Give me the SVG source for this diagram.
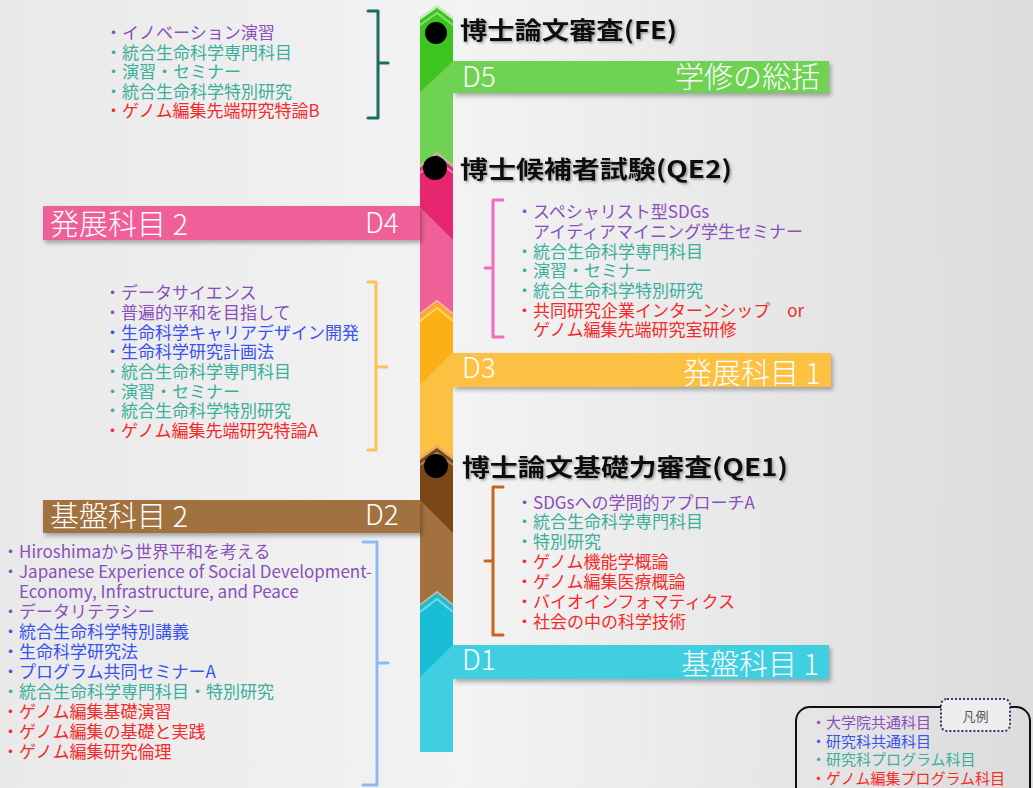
<svg xmlns="http://www.w3.org/2000/svg" width="1033" height="788" viewBox="0 0 1033 788">
<defs>
  <linearGradient id="bg" x1="0" y1="0" x2="1" y2="0">
    <stop offset="0" stop-color="#e9e9e9"/>
    <stop offset="0.45" stop-color="#f3f3f3"/>
    <stop offset="1" stop-color="#dcdcdc"/>
  </linearGradient>
  <filter id="barShadow" x="-5%" y="-30%" width="110%" height="170%">
    <feDropShadow dx="2" dy="3" stdDeviation="2" flood-color="#000" flood-opacity="0.3"/>
  </filter>
  <filter id="txtShadow" x="-10%" y="-30%" width="120%" height="170%">
    <feDropShadow dx="1.5" dy="1.5" stdDeviation="1.2" flood-color="#555" flood-opacity="0.55"/>
  </filter>
  <style>
    .li{font-family:"Noto Sans CJK JP","Noto Sans",sans-serif;font-size:17px;}
    .lg{font-family:"Noto Sans CJK JP","Noto Sans",sans-serif;font-size:15px;}
    .pu{fill:#8a4fba;}
    .te{fill:#3aaf9c;}
    .bl{fill:#3a52ec;}
    .re{fill:#f42a2a;}
    .ttl{font-family:"Noto Sans CJK JP",sans-serif;font-weight:bold;font-size:24px;fill:#111;}
    .bar{font-family:"Noto Sans CJK JP","Noto Sans",sans-serif;font-weight:300;font-size:29px;fill:#fff;}
    .dl{font-family:"Noto Sans CJK JP","Noto Sans",sans-serif;font-weight:300;font-size:28px;fill:#fff;}
    .brk{fill:none;stroke-width:3;stroke-linejoin:round;stroke-linecap:round;}
    .stripe{fill:none;stroke-width:2;stroke-opacity:0.7;}
  </style>
</defs>
<rect x="0" y="0" width="1033" height="788" fill="url(#bg)"/>

<!-- D5 (green) -->
<g id="d5">
  <polygon points="420,20 437,8 453,20 453,175 420,175" fill="#70d253"/>
  <polygon points="420,20 437,8 453,20 453,62 420,92" fill="#3ec41f"/>
  <polyline class="stripe" points="420,18 437,6 453,18" stroke="#a8ea95"/>
  <polyline class="stripe" points="420,25 437,13 453,25" stroke="#a8ea95"/>
  <rect x="453" y="61" width="376" height="32" fill="#70d253" filter="url(#barShadow)"/>
  <polygon points="453,61 453,93 420,93" fill="#70d253"/>
  <text class="dl" x="462" y="87">D5</text>
  <text class="bar" x="820" y="88" text-anchor="end">学修の総括</text>
</g>

<!-- D4 (pink) -->
<g id="d4">
  <polygon points="420,168 437,155 453,168 453,320 420,320" fill="#ee6097"/>
  <polygon points="420,168 437,155 453,168 453,240 420,207" fill="#e6276f"/>
  <polyline class="stripe" points="420,166 437,153 453,166" stroke="#f8a9c6"/>
  <polyline class="stripe" points="420,173 437,160 453,173" stroke="#f8a9c6"/>
  <rect x="43" y="206" width="377" height="34" fill="#ee6097" filter="url(#barShadow)"/>
  <text class="bar" x="50" y="235">発展科目 2</text>
  <text class="dl" x="365" y="233">D4</text>
</g>

<!-- D3 (orange) -->
<g id="d3">
  <polygon points="420,316 437,303 453,316 453,465 420,465" fill="#fcc042"/>
  <polygon points="420,316 437,303 453,316 453,352 420,385" fill="#fbb116"/>
  <polyline class="stripe" points="420,314 437,301 453,314" stroke="#fde39c"/>
  <polyline class="stripe" points="420,321 437,308 453,321" stroke="#fde39c"/>
  <rect x="453" y="353" width="378" height="34" fill="#fcc042" filter="url(#barShadow)"/>
  <polygon points="453,353 453,387 420,387" fill="#fcc042"/>
  <text class="dl" x="462" y="378">D3</text>
  <text class="bar" x="821" y="384" text-anchor="end">発展科目 1</text>
</g>

<!-- D2 (brown) -->
<g id="d2">
  <polygon points="420,460 437,448 453,460 453,610 420,610" fill="#a2713f"/>
  <polygon points="420,460 437,448 453,460 453,533 420,500" fill="#7b4716"/>
  <polyline class="stripe" points="420,458 437,446 453,458" stroke="#cfa77f"/>
  <polyline class="stripe" points="420,465 437,453 453,465" stroke="#cfa77f"/>
  <rect x="43" y="500" width="377" height="33" fill="#a2713f" filter="url(#barShadow)"/>
  <text class="bar" x="50" y="527">基盤科目 2</text>
  <text class="dl" x="365" y="525">D2</text>
</g>

<!-- D1 (cyan) -->
<g id="d1">
  <polygon points="420,607 437,594 453,607 453,752 420,752" fill="#3fcfe0"/>
  <polygon points="420,607 437,594 453,607 453,645 420,677" fill="#19bdd6"/>
  <polyline class="stripe" points="420,605 437,592 453,605" stroke="#9ae8f1"/>
  <polyline class="stripe" points="420,612 437,599 453,612" stroke="#9ae8f1"/>
  <rect x="453" y="645" width="376" height="34" fill="#3fcfe0" filter="url(#barShadow)"/>
  <polygon points="453,645 453,679 420,679" fill="#3fcfe0"/>
  <text class="dl" x="462" y="670">D1</text>
  <text class="bar" x="819" y="675" text-anchor="end">基盤科目 1</text>
</g>

<!-- milestones -->
<g id="fe">
  <circle cx="436" cy="33" r="11" fill="#000"/>
  <text class="ttl" x="460" y="39" textLength="217" lengthAdjust="spacingAndGlyphs" filter="url(#txtShadow)">博士論文審査(FE)</text>
</g>
<g id="qe2">
  <circle cx="435" cy="168" r="12" fill="#000"/>
  <text class="ttl" x="460" y="178" textLength="272" lengthAdjust="spacingAndGlyphs" filter="url(#txtShadow)">博士候補者試験(QE2)</text>
</g>
<g id="qe1">
  <circle cx="436" cy="466" r="12" fill="#000"/>
  <text class="ttl" x="462" y="476" textLength="326" lengthAdjust="spacingAndGlyphs" filter="url(#txtShadow)">博士論文基礎力審査(QE1)</text>
</g>

<!-- course lists -->
<g id="list-d5" class="li">
  <text x="105" y="39" class="pu">・イノベーション演習</text>
  <text x="105" y="59" class="te">・統合生命科学専門科目</text>
  <text x="105" y="78" class="te">・演習・セミナー</text>
  <text x="105" y="98" class="te">・統合生命科学特別研究</text>
  <text x="105" y="117" class="re">・ゲノム編集先端研究特論B</text>
</g>
<g id="list-d4" class="li">
  <text x="516" y="218" class="pu">・スペシャリスト型SDGs</text>
  <text x="533" y="238" class="pu">アイディアマイニング学生セミナー</text>
  <text x="516" y="258" class="te">・統合生命科学専門科目</text>
  <text x="516" y="277" class="te">・演習・セミナー</text>
  <text x="516" y="297" class="te">・統合生命科学特別研究</text>
  <text x="516" y="317" class="re">・共同研究企業インターンシップ　or</text>
  <text x="533" y="336" class="re">ゲノム編集先端研究室研修</text>
</g>
<g id="list-d3" class="li">
  <text x="104" y="299" class="pu">・データサイエンス</text>
  <text x="104" y="319" class="pu">・普遍的平和を目指して</text>
  <text x="104" y="339" class="bl">・生命科学キャリアデザイン開発</text>
  <text x="104" y="358" class="bl">・生命科学研究計画法</text>
  <text x="104" y="378" class="te">・統合生命科学専門科目</text>
  <text x="104" y="398" class="te">・演習・セミナー</text>
  <text x="104" y="417" class="te">・統合生命科学特別研究</text>
  <text x="104" y="437" class="re">・ゲノム編集先端研究特論A</text>
</g>
<g id="list-d1" class="li">
  <text x="516" y="509" class="pu">・SDGsへの学問的アプローチA</text>
  <text x="516" y="528" class="te">・統合生命科学専門科目</text>
  <text x="516" y="548" class="te">・特別研究</text>
  <text x="516" y="568" class="re">・ゲノム機能学概論</text>
  <text x="516" y="588" class="re">・ゲノム編集医療概論</text>
  <text x="516" y="608" class="re">・バイオインフォマティクス</text>
  <text x="516" y="628" class="re">・社会の中の科学技術</text>
</g>
<g id="list-d2" class="li">
  <text x="2" y="558" class="pu">・Hiroshimaから世界平和を考える</text>
  <text x="2" y="578" class="pu">・<tspan x="19" textLength="353">Japanese Experience of Social Development-</tspan></text>
  <text x="19" y="598" class="pu">Economy, Infrastructure, and Peace</text>
  <text x="2" y="618" class="pu">・データリテラシー</text>
  <text x="2" y="638" class="bl">・統合生命科学特別講義</text>
  <text x="2" y="658" class="bl">・生命科学研究法</text>
  <text x="2" y="678" class="bl">・プログラム共同セミナーA</text>
  <text x="2" y="698" class="te">・統合生命科学専門科目・特別研究</text>
  <text x="2" y="718" class="re">・ゲノム編集基礎演習</text>
  <text x="2" y="738" class="re">・ゲノム編集の基礎と実践</text>
  <text x="2" y="758" class="re">・ゲノム編集研究倫理</text>
</g>

<!-- connectors (brackets) -->
<g id="connectors">
  <path class="brk" stroke="#1e6a5f" d="M368,11 H378 V118 H368 M378,63 H388"/>
  <path class="brk" stroke="#f36bbd" d="M503,200 H493 V337 H503 M493,268 H485"/>
  <path class="brk" stroke="#fbc25a" d="M368,282 H376 V450 H368 M376,367 H387"/>
  <path class="brk" stroke="#c9661a" d="M503,487 H493 V635 H503 M493,561 H485"/>
  <path class="brk" stroke="#8fbaf0" d="M363,542 H377 V785 H363 M377,663 H388"/>
</g>

<!-- legend -->
<g id="legend">
  <rect x="796" y="707" width="234" height="100" rx="14" fill="none" stroke="#111" stroke-width="2"/>
  <rect x="941" y="699" width="69" height="32" rx="6" fill="#eeeeee" stroke="#2a3a6a" stroke-width="2" stroke-dasharray="2 2"/>
  <text x="975.5" y="721" text-anchor="middle" font-family="Noto Sans CJK JP, sans-serif" font-size="13" fill="#555">凡例</text>
  <text class="lg pu" x="811" y="728">・大学院共通科目</text>
  <text class="lg bl" x="811" y="747">・研究科共通科目</text>
  <text class="lg te" x="811" y="765">・研究科プログラム科目</text>
  <text class="lg re" x="811" y="784">・ゲノム編集プログラム科目</text>
</g>
</svg>
